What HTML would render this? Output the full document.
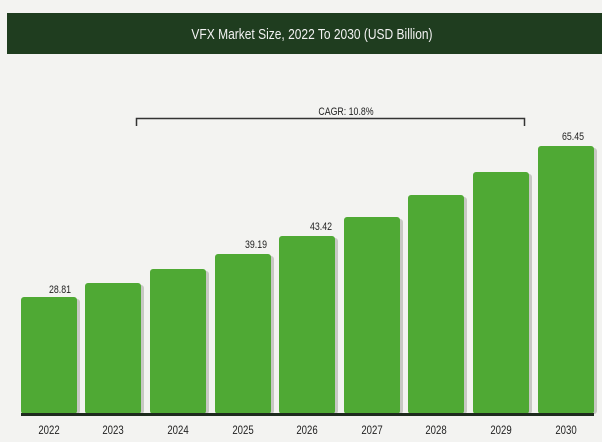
<!DOCTYPE html>
<html><head><style>
html,body{margin:0;padding:0;background:#f3f3f1;}
svg{display:block;}
text{font-family:"Liberation Sans",sans-serif;}
</style></head><body>
<svg width="602" height="442" viewBox="0 0 602 442" xmlns="http://www.w3.org/2000/svg">
<rect width="602" height="442" fill="#f3f3f1"/>
<rect x="7" y="13" width="595" height="41" fill="#1f3d1f"/>
<text x="312" y="39" fill="#f2f2f2" font-size="15" text-anchor="middle" transform="translate(312 0) scale(0.8 1) translate(-312 0)">VFX Market Size, 2022 To 2030 (USD Billion)</text>
<path d="M136.5 126 V118.5 H524.5 V126" fill="none" stroke="#333" stroke-width="1.5"/>
<text x="346" y="115" font-size="11" fill="#222" text-anchor="middle" transform="translate(346 0) scale(0.8 1) translate(-346 0)">CAGR: 10.8%</text>
<g fill="#c8c8c4">
<rect x="23" y="299" width="57" height="115" rx="3"/>
<rect x="87" y="285" width="57" height="129" rx="3"/>
<rect x="152" y="271" width="57" height="143" rx="3"/>
<rect x="217" y="256" width="57" height="158" rx="3"/>
<rect x="281" y="238" width="57" height="176" rx="3"/>
<rect x="346" y="219" width="57" height="195" rx="3"/>
<rect x="410" y="197" width="57" height="217" rx="3"/>
<rect x="475" y="174" width="57" height="240" rx="3"/>
<rect x="540" y="148" width="57" height="266" rx="3"/>
</g>
<g fill="#4fa934">
<rect x="21" y="297" width="56" height="117" rx="3"/>
<rect x="85" y="283" width="56" height="131" rx="3"/>
<rect x="150" y="269" width="56" height="145" rx="3"/>
<rect x="215" y="254" width="56" height="160" rx="3"/>
<rect x="279" y="236" width="56" height="178" rx="3"/>
<rect x="344" y="217" width="56" height="197" rx="3"/>
<rect x="408" y="195" width="56" height="219" rx="3"/>
<rect x="473" y="172" width="56" height="242" rx="3"/>
<rect x="538" y="146" width="56" height="268" rx="3"/>
</g>
<rect x="21" y="413" width="573" height="3" fill="#1e2a1e"/>
<g font-size="11" fill="#222" text-anchor="middle">
<text x="60" y="293" transform="translate(60 0) scale(0.8 1) translate(-60 0)">28.81</text>
<text x="256" y="248" transform="translate(256 0) scale(0.8 1) translate(-256 0)">39.19</text>
<text x="321" y="230" transform="translate(321 0) scale(0.8 1) translate(-321 0)">43.42</text>
<text x="573" y="140" transform="translate(573 0) scale(0.8 1) translate(-573 0)">65.45</text>
</g>
<g font-size="12" fill="#222" text-anchor="middle">
<text x="49" y="434" transform="translate(49 0) scale(0.8 1) translate(-49 0)">2022</text>
<text x="113" y="434" transform="translate(113 0) scale(0.8 1) translate(-113 0)">2023</text>
<text x="178" y="434" transform="translate(178 0) scale(0.8 1) translate(-178 0)">2024</text>
<text x="243" y="434" transform="translate(243 0) scale(0.8 1) translate(-243 0)">2025</text>
<text x="307" y="434" transform="translate(307 0) scale(0.8 1) translate(-307 0)">2026</text>
<text x="372" y="434" transform="translate(372 0) scale(0.8 1) translate(-372 0)">2027</text>
<text x="436" y="434" transform="translate(436 0) scale(0.8 1) translate(-436 0)">2028</text>
<text x="501" y="434" transform="translate(501 0) scale(0.8 1) translate(-501 0)">2029</text>
<text x="566" y="434" transform="translate(566 0) scale(0.8 1) translate(-566 0)">2030</text>
</g>
</svg>
</body></html>
